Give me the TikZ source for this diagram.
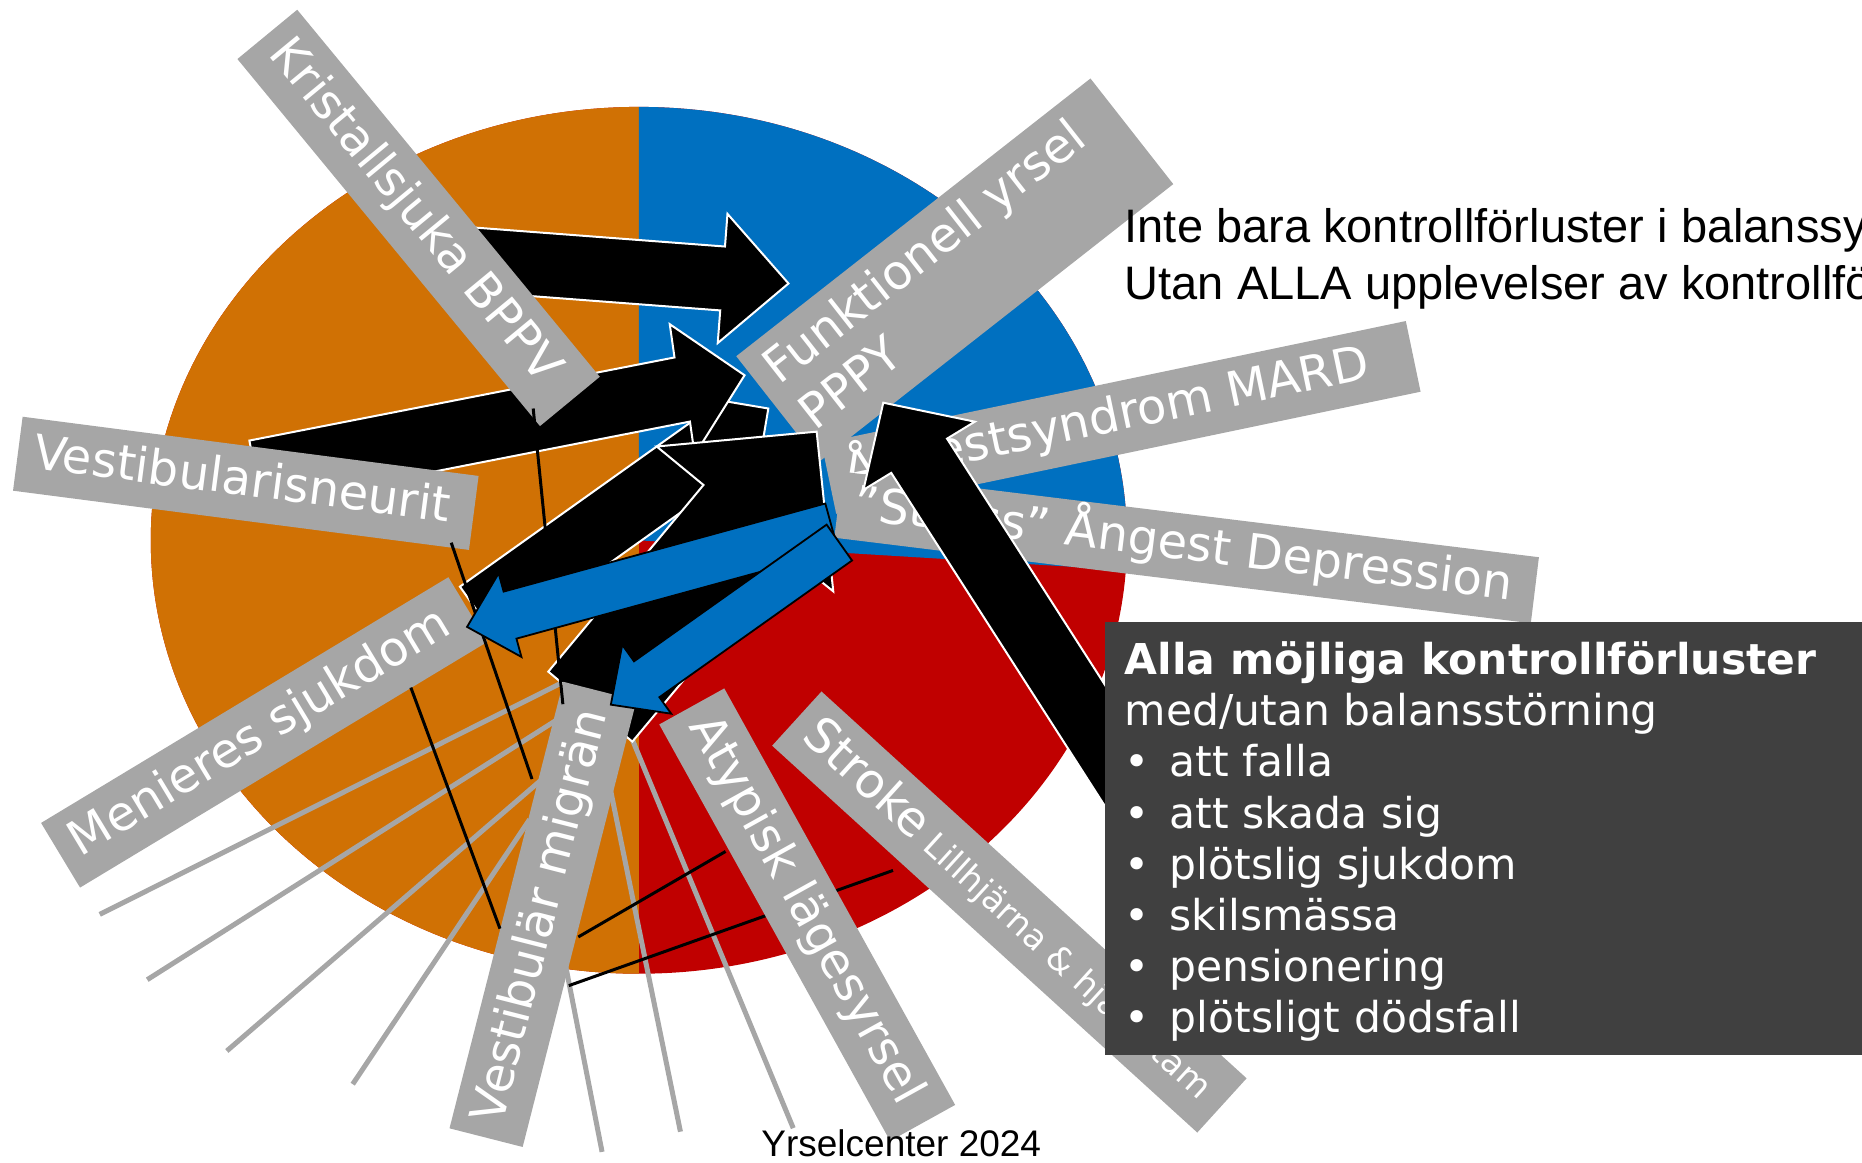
\documentclass[tikz,border=0pt]{standalone}
\usepackage{fontspec}
\setmainfont{DejaVu Sans}
\newfontfamily\arialfont{Liberation Sans}
\definecolor{pieorange}{RGB}{208,113,4}
\definecolor{pieblue}{RGB}{0,112,192}
\definecolor{piered}{RGB}{192,0,0}
\definecolor{labgray}{RGB}{166,166,166}
\definecolor{boxgray}{RGB}{64,64,64}
\begin{document}
\begin{tikzpicture}[x=1.1875pt,y=-1.1875pt,
  bandbase/.style={fill=labgray, text=white, inner xsep=16pt, inner ysep=0pt, font=\fontsize{48}{58}\selectfont},
  band/.style={bandbase, text height=36pt, text depth=11pt},
  blackarrow/.style={fill=black, draw=white, line width=2pt, line join=miter},
  bluearrow/.style={fill=pieblue, draw=black, line width=1.8pt, line join=miter},
  ray/.style={draw=labgray, line width=5pt},
  link/.style={draw=black, line width=3pt},
  boxtext/.style={anchor=base west, inner sep=0pt, text=white, font=\fontsize{42.5}{50}\selectfont},
  headline/.style={anchor=base west, inner sep=0pt, font=\arialfont\fontsize{47}{56}\selectfont},
  ]
\useasboundingbox (0,0) rectangle (1568,979);
\begin{scope}
\clip (0,0) rectangle (1568,979);
% pie
\fill[piered] (538,455) ellipse [x radius=488.1pt, y radius=433.4pt];
\begin{scope}
\clip (538,455) ellipse [x radius=488.1pt, y radius=433.4pt];
\fill[pieorange] (0,0) rectangle (538,979);
\fill[pieblue] (538,455) -- (538,0) -- (1000,0) -- (1000,483.2) -- cycle;
\end{scope}
% grey rays
\draw[ray] (84,770) -- (478,572.5);
\draw[ray] (124,825) -- (474,603);
\draw[ray] (191,885) -- (466,648);
\draw[ray] (297,913) -- (446,690);
\draw[ray] (507,970) -- (462,740);
\draw[ray] (573,953) -- (510,645);
\draw[ray] (668,950) -- (528,612);
% right-hand labels
\node[band, rotate=11.8, minimum height=72.2pt] (mard) at (944,351.5) {\makebox[565pt][l]{Ångestsyndrom MARD}};
\node[band, rotate=-7, minimum height=66.5pt] (stress) at (999.25,461) {\makebox[669.7pt][l]{”Stress” Ångest Depression}};
\node[bandbase, rotate=38.1, minimum height=134.2pt] (funk) at (804,227.5) {\makebox[418.1pt][l]{\begin{tabular}{@{}l@{}}Funktionell yrsel\\PPPY\end{tabular}}};
% black arrows
\filldraw[blackarrow] (387.3,494) -- (585.7,352.7) -- (570.3,331.1) -- (647,344) -- (634.1,420.7) -- (618.7,399.1) -- (420.4,540.5) -- cycle;
\filldraw[blackarrow] (210,371) -- (568,301) -- (564,273) -- (627,316) -- (585,383) -- (581,355) -- (220.5,425.5) -- cycle;
\filldraw[blackarrow] (386.2,190.6) -- (610.5,207.6) -- (612.6,180.1) -- (664,238.7) -- (604.4,288.9) -- (606.5,261.4) -- (382.2,244.4) -- cycle;
\filldraw[blackarrow] (461.7,565.6) -- (592.4,408.4) -- (553,376) -- (687.7,363.5) -- (701.7,498) -- (663.8,467.2) -- (532.5,624.5) -- cycle;
% left-hand labels
\node[band, rotate=-50.5, minimum height=77.5pt] (kris) at (352.5,183.5) {\makebox[443.7pt][l]{Kristallsjuka BPPV}};
\node[band, rotate=-7.4, minimum height=74.6pt] (vneu) at (207,407) {\makebox[427.8pt][l]{Vestibularisneurit}};
\node[band, rotate=31.1, minimum height=75.5pt] (men) at (222.5,616.75) {\makebox[443.7pt][l]{Menieres sjukdom}};
\node[band, rotate=75.7, minimum height=75.5pt] (vmig) at (457.25,770) {\makebox[428.8pt][l]{Vestibulär migrän}};
% connecting lines
\coordinate (k1) at (449,344); \coordinate (k2) at (474,593);
\coordinate (n1) at (380,457); \coordinate (n2) at (448,656);
\coordinate (m1) at (346,579); \coordinate (m2) at (421,782);
\coordinate (v1) at (487,789); \coordinate (a1) at (611,717);
\coordinate (v2) at (479,830); \coordinate (s1) at (752,733);
\draw[link] (k1) -- (k2);
\draw[link] (n1) -- (n2);
\draw[link] (m1) -- (m2);
\draw[link] (v1) -- (a1);
\draw[link] (v2) -- (s1);
% labels lying over the lines
\node[band, rotate=-61, minimum height=74.3pt] (atyp) at (679.75,770.25) {\makebox[444.2pt][l]{Atypisk lägesyrsel}};
\node[band, rotate=-42.3, minimum height=73.3pt] (stroke) at (850,768) {\makebox[542.8pt][l]{Stroke{\fontsize{34}{40}\selectfont{} Lillhjärna \& hjärnstam}}};
% blue arrows
\filldraw[bluearrow] (393.3,527.9) -- (419.9,482.8) -- (424.1,498.2) -- (695,424) -- (705.8,463.6) -- (434.9,537.8) -- (439.1,553.2) -- cycle;
\filldraw[bluearrow] (514.4,593.4) -- (524,543) -- (533.9,556.9) -- (696.1,441.8) -- (717.5,472) -- (555.3,587.1) -- (565.2,601) -- cycle;
% big arrow from box
\filldraw[blackarrow] (743.8,339.1) -- (820.9,355.1) -- (797.5,369.4) -- (1002.7,689.4) -- (955.7,718.2) -- (750.5,398.2) -- (727.1,412.5) -- cycle;
% dark box
\node[fill=boxgray, anchor=north west, inner sep=0pt, minimum width=760pt, minimum height=432.3pt] (box) at (930,524) {};
\node[boxtext, font={\fontsize{42.5}{50}\selectfont\bfseries}] (bx1) at (947,568) {Alla möjliga kontrollförluster};
\node[boxtext] (bx2) at (947,611.1) {med/utan balansstörning};
\node[boxtext] (bx3) at (947,654.2) {\makebox[45pt][l]{•}att falla};
\node[boxtext] (bx4) at (947,697.3) {\makebox[45pt][l]{•}att skada sig};
\node[boxtext] (bx5) at (947,740.4) {\makebox[45pt][l]{•}plötslig sjukdom};
\node[boxtext] (bx6) at (947,783.5) {\makebox[45pt][l]{•}skilsmässa};
\node[boxtext] (bx7) at (947,826.6) {\makebox[45pt][l]{•}pensionering};
\node[boxtext] (bx8) at (947,869.7) {\makebox[45pt][l]{•}plötsligt dödsfall};
% headline and footer
\node[headline] (title1) at (947,204) {Inte bara kontrollförluster i balanssy};
\node[headline] (title2) at (947,252) {Utan ALLA upplevelser av kontrollfö};
\node[anchor=base west, inner sep=0pt, font=\arialfont\fontsize{37}{44}\selectfont] (foot) at (641,974) {Yrselcenter 2024};
\end{scope}
\end{tikzpicture}
\end{document}
